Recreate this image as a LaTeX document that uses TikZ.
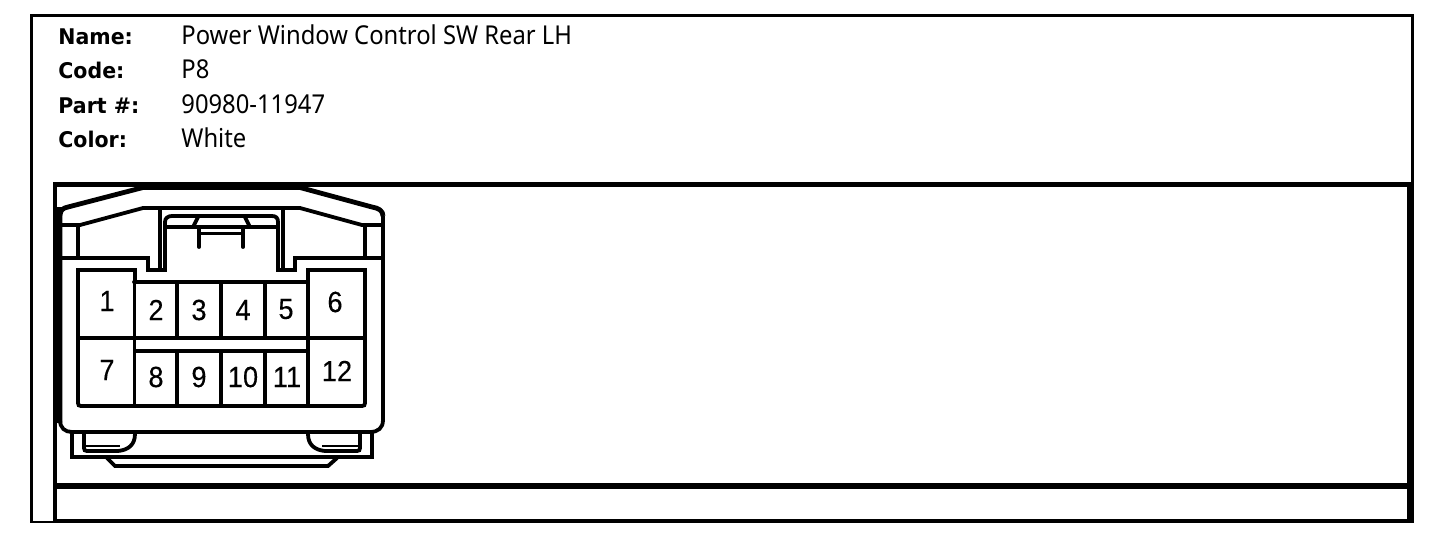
\documentclass[tikz,border=0pt]{standalone}
\usepackage{fontspec}
\setmainfont[FakeStretch=0.915]{Noto Sans}
\newfontfamily\keyfont[FakeStretch=0.95]{DejaVu Sans Bold}
\newfontfamily\pinfont[FakeStretch=0.93,FakeBold=0.25]{Liberation Sans}
\tikzset{
  px/.style={x=0.5pt,y=-0.5pt},
  frameline/.style={line width=1.3pt,line cap=butt},
  boxline/.style={line width=2.4pt,line cap=butt},
  partline/.style={line width=1.9pt,line join=miter,line cap=round},
  thinpart/.style={line width=1pt},
  heavypart/.style={line width=2.4pt,line join=round},
  keytext/.style={anchor=base west,inner sep=0pt,font=\keyfont\fontsize{10.8}{13}\selectfont},
  valtext/.style={anchor=base west,inner sep=0pt,font=\fontsize{13}{14}\selectfont},
  pinlabel/.style={inner sep=0pt,font=\pinfont\fontsize{14.6}{15}\selectfont}
}
\begin{document}
\begin{tikzpicture}[px]
\useasboundingbox (0,0) rectangle (1456,538);
% outer frame
\draw[frameline] (55,522) -- (31.5,522) -- (31.5,15.5) -- (1412.5,15.5) -- (1412.5,184);
% inner boxes
\draw[boxline] (55,184.5) -- (1410.5,184.5) -- (1410.5,521) -- (55,521) -- cycle;
\draw[line width=2.9pt] (55,486) -- (1410,486);
\draw[line width=3.2pt] (1410.5,184) -- (1410.5,523);
\draw[line width=1.8pt] (55.5,184) -- (55.5,521);
% header
\node[keytext] (k1) at (58,44) {Name:};
\node[keytext] (k2) at (58,78) {Code:};
\node[keytext] (k3) at (58,113) {Part \#:};
\node[keytext] (k4) at (58,147) {Color:};
\node[valtext] (v1) at (181,44) {Power Window Control SW Rear LH};
\node[valtext] (v2) at (181,78) {P8};
\node[valtext] (v3) at (181,113) {90980-11947};
\node[valtext] (v4) at (181,147) {White};
% connector outline
\fill (143,183) -- (300,183) -- (300,190) -- (143,190) -- cycle;
\fill (54,207) rectangle (62,423);
\draw[heavypart] (60,423) -- (60,216) .. controls (60,210) and (63,208) .. (68,207) -- (143,187.5) -- (300,187.5) -- (372,207) .. controls (379,208) and (383,211) .. (383,216);
\draw[partline] (383,216) -- (383,420) .. controls (383,428) and (378,432) .. (370,432) -- (72,432) .. controls (65,432) and (60,428) .. (60,420);
% inner profile
\draw[partline] (62,225) -- (80,225) -- (143,208) -- (300,208) -- (362,225) -- (383,225);
\draw[partline] (78,225) -- (78,257);
\draw[partline] (365,225) -- (365,257);
\draw[partline] (62,258) -- (148,258) -- (148,270) -- (165,270) -- (165,222) .. controls (165,218) and (168,216) .. (172,216) -- (272,216) .. controls (276,216) and (278,218) .. (278,222) -- (278,270) -- (295,270) -- (295,258) -- (383,258);
\draw[partline] (160,208) -- (160,270);
\draw[partline] (283,208) -- (283,270);
\draw[partline] (166,227) -- (278,227);
\draw[partline] (193,227) -- (198,217);
\draw[partline] (250,227) -- (245,217);
\draw[partline] (199,227) -- (199,247);
\draw[partline] (243,227) -- (243,247);
\draw[partline] (199,233.5) -- (243,233.5);
% cavities
\draw[partline] (135,282) -- (135,270) -- (78,270) -- (78,403) .. controls (78,405) and (79,406) .. (81,406) -- (362,406) .. controls (364,406) and (365,405) .. (365,403) -- (365,270) -- (308,270) -- (308,282);
\draw[partline] (134,282) -- (308,282);
\draw[partline] (78,338) -- (365,338);
\draw[partline] (135,351) -- (308,351);
\draw[partline] (134.5,282) -- (134.5,406);
\draw[partline] (308,282) -- (308,406);
\foreach \px in {177,221,265}{
  \draw[partline] (\px,282) -- (\px,338);
  \draw[partline] (\px,351) -- (\px,406);
}
% pins
\node[pinlabel] (p1) at (107,301) {1};
\node[pinlabel] (p2) at (156,310) {2};
\node[pinlabel] (p3) at (199,310) {3};
\node[pinlabel] (p4) at (243,310) {4};
\node[pinlabel] (p5) at (286,309) {5};
\node[pinlabel] (p6) at (335,302) {6};
\node[pinlabel] (p7) at (107,370) {7};
\node[pinlabel] (p8) at (156,377) {8};
\node[pinlabel] (p9) at (199,377) {9};
\node[pinlabel] (p10) at (243,377) {10};
\node[pinlabel] (p11) at (287,377) {11};
\node[pinlabel] (p12) at (337,371) {12};
% clips
\draw[partline] (72,432) -- (72,457) -- (372,457) -- (372,432);
\draw[partline] (84,432) -- (84,448) .. controls (84,450) and (85,451) .. (87,451) -- (118,451) .. controls (128,450) and (135,445) .. (135,434);
\draw[partline] (360,432) -- (360,448) .. controls (360,450) and (359,451) .. (357,451) -- (325,451) .. controls (315,450) and (308,445) .. (308,434);
\draw[thinpart] (85,446) -- (120,446);
\draw[thinpart] (322,446) -- (359,446);
\draw[partline] (107,458) -- (115,466) -- (328,466) -- (337,458);
\end{tikzpicture}
\end{document}
